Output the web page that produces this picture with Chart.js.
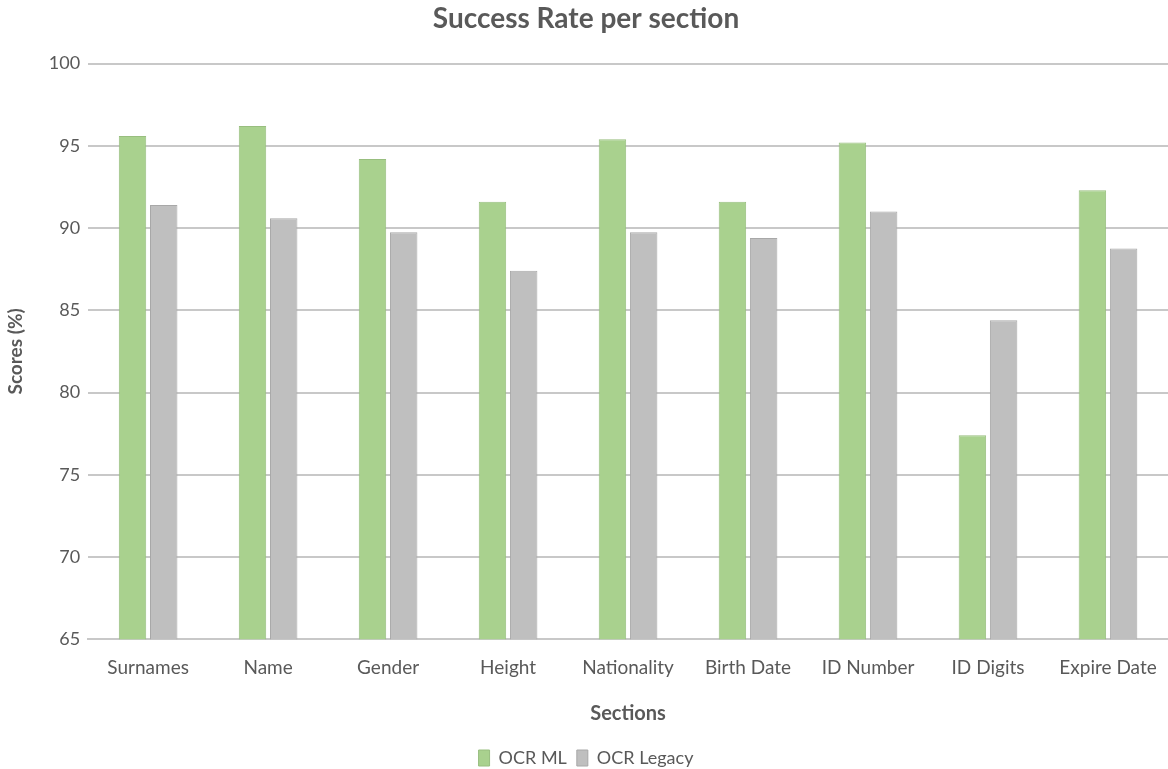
<!DOCTYPE html>
<html>
<head>
<meta charset="utf-8">
<script src="https://cdn.jsdelivr.net/npm/chart.js@4"></script>
<style>
  html, body { margin: 0; padding: 0; background: #fff; }
  #wrap { width: 1168px; height: 769px; }
</style>
</head>
<body>
<div id="wrap"><canvas id="scores"></canvas></div>
<script>
const sections = ["Surnames", "Name", "Gender", "Height", "Nationality", "Birth Date", "ID Number", "ID Digits", "Expire Date"];
const ocrML = [95.6, 96.2, 94.2, 91.6, 95.4, 91.6, 95.2, 77.4, 92.3];
const ocrLegacy = [91.4, 90.6, 89.75, 87.4, 89.75, 89.4, 91.0, 84.4, 88.75];
const yTicks = [65, 70, 75, 80, 85, 90, 95, 100];

const textColor = "#595959";
const fontFamily = "Lato, 'Open Sans', sans-serif";

const ctx = document.getElementById("scores").getContext("2d");
new Chart(ctx, {
  type: "bar",
  data: {
    labels: sections,
    datasets: [
      {
        label: "OCR ML",
        data: ocrML,
        backgroundColor: "#A9D18E",
        borderColor: "#98BE7F",
        borderWidth: 1,
        barPercentage: 0.88,
        categoryPercentage: 0.52,
      },
      {
        label: "OCR Legacy",
        data: ocrLegacy,
        backgroundColor: "#BFBFBF",
        borderColor: "#A8A8A8",
        borderWidth: 1,
        barPercentage: 0.88,
        categoryPercentage: 0.52,
      },
    ],
  },
  options: {
    responsive: true,
    maintainAspectRatio: false,
    animation: false,
    layout: { padding: { left: 4, right: 0, top: 0, bottom: -8 } },
    plugins: {
      title: {
        display: true,
        text: "Success Rate per section",
        color: textColor,
        font: { family: fontFamily, size: 28, weight: "bold" },
        padding: { top: 2, bottom: 28 },
      },
      legend: {
        position: "bottom",
        labels: {
          color: textColor,
          font: { family: fontFamily, size: 18 },
          boxWidth: 11,
          boxHeight: 16,
          padding: 10,
        },
      },
      tooltip: { enabled: false },
    },
    scales: {
      x: {
        grid: { display: false },
        border: { color: "#C8C8C8", width: 2 },
        ticks: {
          color: textColor,
          font: { family: fontFamily, size: 19 },
          maxRotation: 0,
          padding: 9,
        },
        title: {
          display: true,
          text: "Sections",
          color: textColor,
          font: { family: fontFamily, size: 20, weight: "bold" },
          padding: { top: 14, bottom: 13 },
        },
      },
      y: {
        min: yTicks[0],
        max: yTicks[yTicks.length - 1],
        afterBuildTicks: (axis) => {
          axis.ticks = yTicks.map((v) => ({ value: v }));
        },
        grid: { color: "#C8C8C8", lineWidth: 2, drawTicks: false },
        border: { display: false },
        ticks: {
          color: textColor,
          font: { family: fontFamily, size: 18 },
          padding: 8,
        },
        title: {
          display: true,
          text: "Scores (%)",
          color: textColor,
          font: { family: fontFamily, size: 19, weight: "bold" },
          padding: { top: 0, bottom: 14 },
        },
      },
    },
  },
});
</script>
</body>
</html>
